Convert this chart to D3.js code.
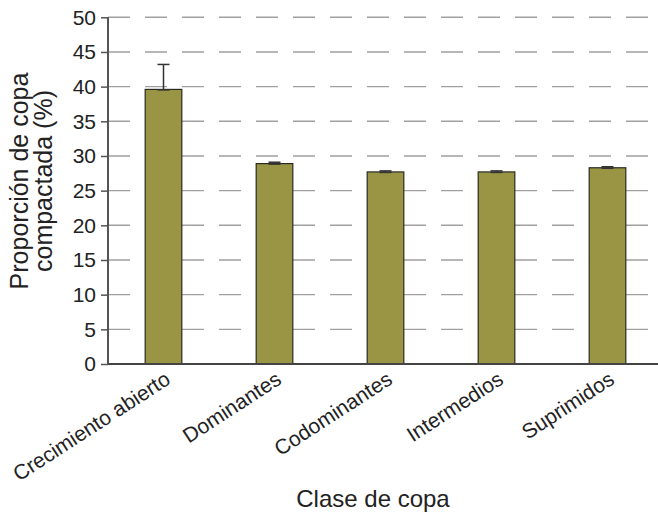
<!DOCTYPE html>
<html><head><meta charset="utf-8">
<script src="https://cdn.jsdelivr.net/npm/d3@7"></script>
<style>body{margin:0;background:#fff}svg{display:block}text{font-family:"Liberation Sans",Arial,sans-serif;fill:#222}</style>
</head><body>
<svg id="c" width="658" height="515"></svg>
<script>
const categories = ["Crecimiento abierto","Dominantes","Codominantes","Intermedios","Suprimidos"];
const values = [39.6, 28.9, 27.7, 27.7, 28.3];
const errors = [3.6, 0.2, 0.15, 0.15, 0.15];
const yTicks = [0,5,10,15,20,25,30,35,40,45,50];

const svg = d3.select("#c");
const mLeft = 108, mRight = 663, mTop = 17.3, mBottom = 364;
const x = d3.scaleBand().domain(categories).range([mLeft, mRight]).paddingInner(0.67).paddingOuter(0.335);
const y = d3.scaleLinear().domain([0,50]).range([mBottom, mTop]);

// grid
svg.append("g").selectAll("line").data(yTicks.filter(d=>d>0)).join("line")
  .attr("x1", mLeft).attr("x2", 658).attr("y1", d=>y(d)).attr("y2", d=>y(d))
  .attr("stroke", "#a0a0a0").attr("stroke-width", 1.4).attr("stroke-dasharray", "22,15");

// bars
svg.append("g").selectAll("rect").data(categories).join("rect")
  .attr("x", d=>x(d)).attr("width", x.bandwidth())
  .attr("y", (d,i)=>y(values[i])).attr("height", (d,i)=>y(0)-y(values[i]))
  .attr("fill", "#9a9544").attr("stroke", "#2a2a22").attr("stroke-width", 1.2);

// error bars
const eg = svg.append("g").attr("stroke", "#333").attr("stroke-width", 1.5);
categories.forEach((c,i)=>{
  const cx = x(c) + x.bandwidth()/2;
  const yt = y(values[i]+errors[i]), yb = y(values[i]);
  eg.append("line").attr("x1",cx).attr("x2",cx).attr("y1",yt).attr("y2",yb);
  eg.append("line").attr("x1",cx-6).attr("x2",cx+6).attr("y1",yt).attr("y2",yt);
  eg.append("line").attr("x1",cx-6).attr("x2",cx+6).attr("y1",yb+0.5).attr("y2",yb+0.5);
});

// y axis
const ya = svg.append("g").attr("transform", `translate(${mLeft},0)`)
  .call(d3.axisLeft(y).tickValues(yTicks).tickSize(7).tickPadding(5));
ya.select(".domain").attr("stroke","#555").attr("stroke-width",2).attr("d", `M-0,${mBottom}V${mTop}`);
ya.selectAll(".tick line").attr("stroke","#555").attr("stroke-width",1.5);
ya.selectAll(".tick text").attr("font-size", 21).attr("fill","#222").attr("font-family","Liberation Sans, Arial, sans-serif");

// x axis line
svg.append("line").attr("x1", mLeft).attr("x2", 658).attr("y1", mBottom).attr("y2", mBottom)
  .attr("stroke","#444").attr("stroke-width",2);

// x labels
svg.append("g").selectAll("text").data(categories).join("text")
  .attr("transform", d=>`translate(${x(d)+x.bandwidth()/2},${mBottom+6}) rotate(-33)`)
  .attr("text-anchor","end").attr("font-size",21).attr("dy","0.72em").text(d=>d);

// titles
svg.append("text").attr("x", 373).attr("y", 507).attr("text-anchor","middle").attr("font-size",24).text("Clase de copa");
const ytl = svg.append("text").attr("transform","translate(0,181) rotate(-90)").attr("text-anchor","middle").attr("font-size",25);
ytl.append("tspan").attr("x",0).attr("y",28).text("Proporción de copa");
ytl.append("tspan").attr("x",0).attr("y",52).text("compactada (%)");
</script>
</body></html>
